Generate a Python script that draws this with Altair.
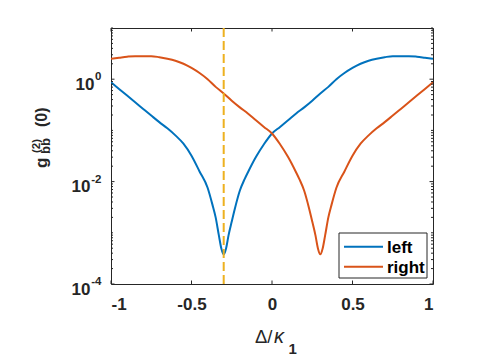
import altair as alt
import pandas as pd

# ---- data ----
left_x = [-1.00, -0.95, -0.90, -0.85, -0.80, -0.75, -0.70, -0.65, -0.60, -0.55, -0.50, -0.45, -0.40,
          -0.37, -0.35, -0.33, -0.315, -0.30, -0.285, -0.27, -0.25, -0.23, -0.20, -0.17, -0.15,
          -0.10, -0.05, 0.00, 0.05, 0.10, 0.15, 0.20, 0.25, 0.30, 0.35, 0.40,
          0.45, 0.50, 0.55, 0.60, 0.65, 0.70, 0.75, 0.80, 0.85, 0.90, 0.95, 1.00]
left_y = [0.871, 0.646, 0.479, 0.355, 0.263, 0.195, 0.145, 0.110, 0.0800, 0.0550, 0.0320, 0.0158, 0.00759,
          0.00355, 0.00200, 0.000891, 0.000501, 0.000380, 0.000501, 0.000891, 0.00166, 0.00302, 0.00661, 0.0112, 0.0151,
          0.0302, 0.0537, 0.0871, 0.117, 0.158, 0.214, 0.282, 0.380, 0.525, 0.708, 1.00,
          1.32, 1.66, 2.00, 2.29, 2.51, 2.69, 2.82, 2.82, 2.82, 2.75, 2.63, 2.51]

right_x = [-1.00, -0.95, -0.90, -0.85, -0.80, -0.75, -0.70, -0.65, -0.60, -0.55, -0.50, -0.45, -0.40,
           -0.35, -0.30, -0.25, -0.20, -0.15, -0.10, -0.05, 0.00, 0.05, 0.10,
           0.15, 0.17, 0.20, 0.23, 0.25, 0.27, 0.285, 0.30, 0.315, 0.33, 0.35, 0.37, 0.40,
           0.45, 0.50, 0.55, 0.60, 0.65, 0.70, 0.75, 0.80, 0.85, 0.90, 0.95, 1.00]
right_y = [2.51, 2.63, 2.75, 2.82, 2.82, 2.82, 2.69, 2.51, 2.29, 2.00, 1.66, 1.32, 1.00,
           0.708, 0.525, 0.380, 0.282, 0.214, 0.158, 0.117, 0.0871, 0.0537, 0.0302,
           0.0151, 0.0112, 0.00661, 0.00302, 0.00166, 0.000891, 0.000501, 0.000380, 0.000501, 0.000891, 0.00200, 0.00355, 0.00759,
           0.0158, 0.0320, 0.0550, 0.0800, 0.110, 0.145, 0.195, 0.263, 0.355, 0.479, 0.646, 0.871]

series_names = ["left", "right"]
series_colors = ["#0072BD", "#D95319"]
vline_x = [-0.3]

x_ticks = [-1, -0.5, 0, 0.5, 1]
y_major = [1e-4, 1e-2, 1e0]
y_exp = ["-4", "-2", "0"]
y_minor = [m * 10.0 ** e for e in range(-4, 1) for m in range(2, 10)] + [1e-3, 1e-1, 1e1]

# ---- layout ----
W, H = 322, 256
FONT = "Liberation Sans"
AX = "#262626"

xs = alt.Scale(domain=[-1, 1], nice=False, zero=False)
ys = alt.Scale(type="log", domain=[1e-4, 10], nice=False)

df = pd.DataFrame({
    "x": left_x + right_x,
    "y": left_y + right_y,
    "s": ["left"] * len(left_x) + ["right"] * len(right_x),
})

lines = alt.Chart(df).mark_line(strokeWidth=2, clip=True, interpolate="monotone").encode(
    x=alt.X("x:Q", scale=xs,
            axis=alt.Axis(values=x_ticks, ticks=False, domain=False, grid=False, title=None,
                          labelFont=FONT, labelFontSize=17, labelFontWeight="bold",
                          labelColor=AX, labelPadding=12,
                          labelExpr="(datum.value < 0 ? '-' : '') + format(abs(datum.value), '')")),
    y=alt.Y("y:Q", scale=ys, axis=None),
    color=alt.Color("s:N", scale=alt.Scale(domain=series_names, range=series_colors), legend=None),
    detail="s:N",
)

vline = alt.Chart(pd.DataFrame({"x": vline_x})).mark_rule(
    color="#EDB120", strokeWidth=2, strokeDash=[9, 4]
).encode(x=alt.X("x:Q", scale=xs), y=alt.value(0), y2=alt.value(H))

xt = pd.DataFrame({"x": x_ticks})
xtick_b = alt.Chart(xt).mark_rule(color=AX, strokeWidth=1).encode(
    x=alt.X("x:Q", scale=xs), y=alt.value(H), y2=alt.value(H - 3.5))
xtick_t = alt.Chart(xt).mark_rule(color=AX, strokeWidth=1).encode(
    x=alt.X("x:Q", scale=xs), y=alt.value(0), y2=alt.value(3.5))

ymaj = pd.DataFrame({"v": y_major, "e": y_exp})
ymin = pd.DataFrame({"v": y_minor})


def yt(d, x1, x2):
    return alt.Chart(d).mark_rule(color=AX, strokeWidth=1).encode(
        y=alt.Y("v:Q", scale=ys), x=alt.value(x1), x2=alt.value(x2))


yticks = [yt(ymaj, 0, 3.5), yt(ymaj, W, W - 3.5), yt(ymin, 0, 2), yt(ymin, W, W - 2)]

exp_lbl = alt.Chart(ymaj).mark_text(
    font=FONT, fontSize=11.5, fontWeight="bold", color=AX, align="right", baseline="alphabetic", dy=1
).encode(y=alt.Y("v:Q", scale=ys), x=alt.value(-9.5), text="e:N")

ten_lbl = alt.Chart(ymaj).transform_calculate(
    px="datum.e == '0' ? -16.5 : -20.5", t="'10'"
).mark_text(
    font=FONT, fontSize=17, fontWeight="bold", color=AX, align="right", baseline="alphabetic", dy=10.7
).encode(y=alt.Y("v:Q", scale=ys), x=alt.X("px:Q", scale=None), text="t:N")

# y title pieces (rotated, reading bottom to top)
yt_df = pd.DataFrame({
    "t": ["g", "bb", "(2)", "(0)"],
    "px": [-64, -61, -71, -64],
    "py": [140, 126, 125, 99],
    "fs": [17, 13, 11.5, 16],
})
ytitle = alt.Chart(yt_df).mark_text(
    font=FONT, fontWeight="bold", color=AX, angle=270, align="left", baseline="alphabetic"
).encode(x=alt.X("px:Q", scale=None), y=alt.Y("py:Q", scale=None), text="t:N",
         size=alt.Size("fs:Q", scale=None, legend=None))

# x title pieces
xt_df = pd.DataFrame({
    "t": ["\u0394/", "\u03ba", "1"],
    "px": [144, 163, 177.5],
    "py": [315, 315, 326],
    "st": ["normal", "italic", "normal"],
    "fw": ["normal", "normal", "bold"],
    "fs": [18.5, 20, 15],
})
xtitle_parts = []
for i in range(3):
    sub = xt_df.iloc[[i]]
    xtitle_parts.append(
        alt.Chart(sub).mark_text(
            font=FONT, fontSize=float(xt_df["fs"][i]), fontStyle=xt_df["st"][i], fontWeight=xt_df["fw"][i],
            color=AX, align="left", baseline="alphabetic"
        ).encode(x=alt.X("px:Q", scale=None), y=alt.Y("py:Q", scale=None), text="t:N")
    )

# legend
leg = pd.DataFrame({"s": series_names, "c": series_colors, "ly": [218.7, 238.7]})
leg_box = alt.Chart(pd.DataFrame({"a": [0]})).mark_rect(
    fill="white", stroke=AX, strokeWidth=1
).encode(x=alt.value(228), x2=alt.value(316), y=alt.value(205), y2=alt.value(250))
leg_lines = alt.Chart(leg).mark_rule(strokeWidth=2).encode(
    x=alt.value(233), x2=alt.value(272), y=alt.Y("ly:Q", scale=None),
    color=alt.Color("c:N", scale=None))
leg_text = alt.Chart(leg).mark_text(
    font=FONT, fontSize=17, fontWeight="bold", color="black", align="left", baseline="middle", dy=1
).encode(x=alt.value(276), y=alt.Y("ly:Q", scale=None), text="s:N")

chart = alt.layer(
    lines, vline, xtick_b, xtick_t, *yticks, exp_lbl, ten_lbl, ytitle, *xtitle_parts,
    leg_box, leg_lines, leg_text
).properties(
    width=W, height=H,
    padding={"left": 103, "top": 20, "right": 30, "bottom": 78},
    autosize=alt.AutoSizeParams(type="none"),
    background="white",
).configure_view(stroke=AX, strokeWidth=1)

chart.save("out.html", embed_options={"renderer": "svg", "actions": False})
